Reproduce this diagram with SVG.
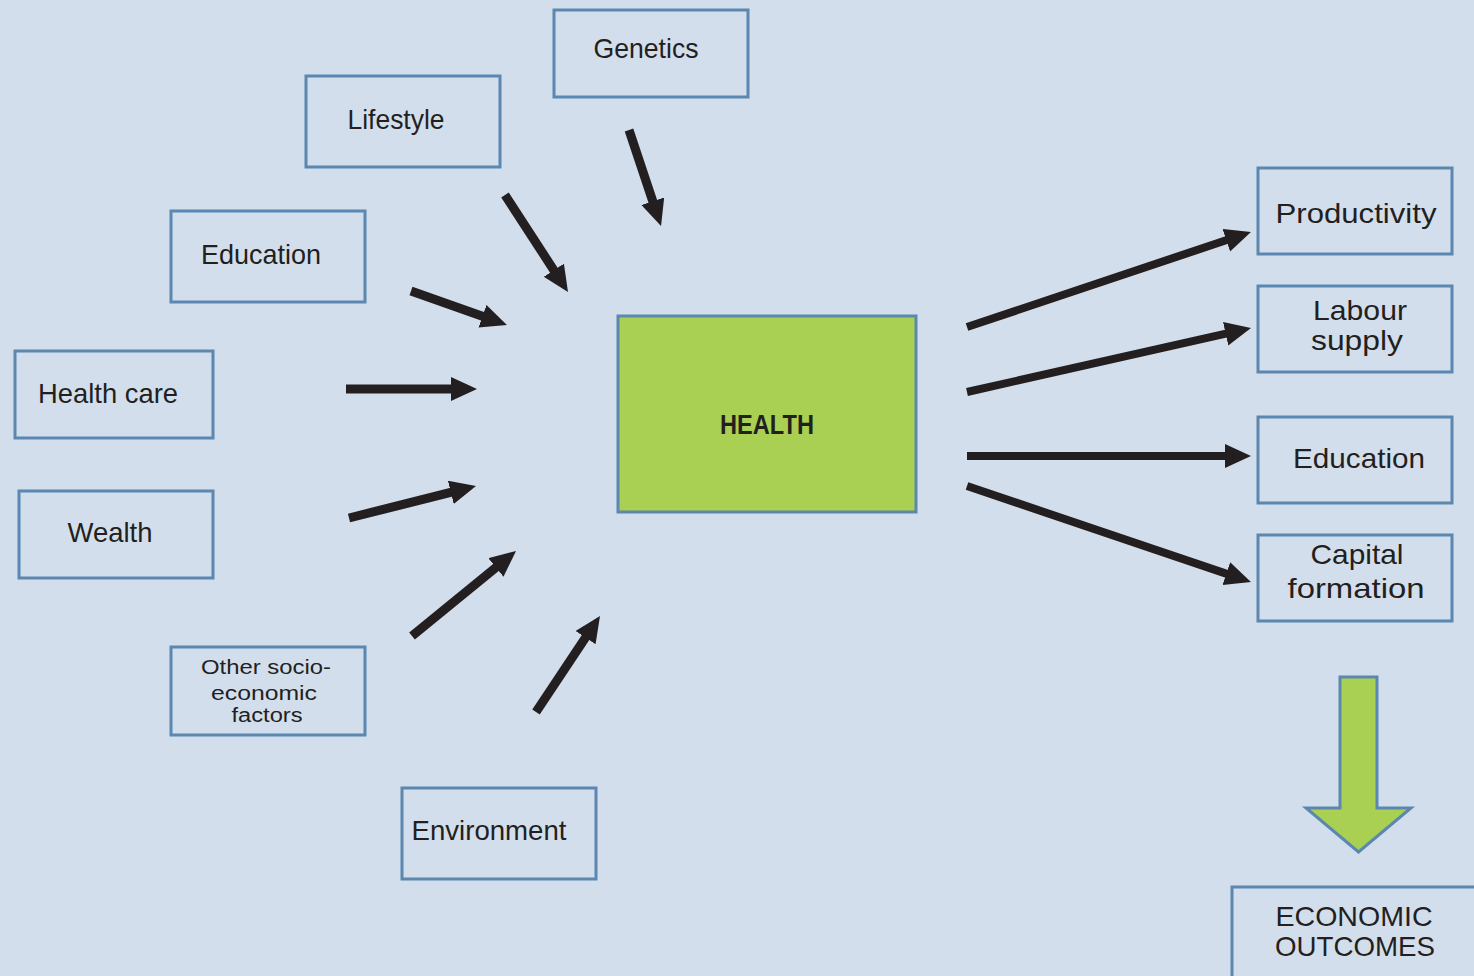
<svg xmlns="http://www.w3.org/2000/svg" width="1474" height="976" viewBox="0 0 1474 976">
<style>
.box{fill:none;stroke:#5B87B0;stroke-width:3}
.t{font-family:"Liberation Sans",Arial,sans-serif;font-size:28px;fill:#231F20;text-anchor:middle}
.s{font-size:20px}
.arr{stroke:#231F20;stroke-width:9;fill:none;marker-end:url(#ah)}
.arr2{stroke:#231F20;stroke-width:8;fill:none;marker-end:url(#ah)}
</style>
<defs>
<marker id="ah" markerUnits="userSpaceOnUse" markerWidth="28" markerHeight="26" refX="6" refY="12" orient="auto" viewBox="0 0 28 26">
<path d="M0,0 L26,12 L0,24 z" fill="#231F20"/>
</marker>
</defs>
<rect width="1474" height="976" fill="#D3DEEC"/>
<g id="connectors">
<line class="arr" x1="629" y1="130" x2="654.7" y2="207"/>
<line class="arr" x1="505" y1="195" x2="557.1" y2="275.2"/>
<line class="arr" x1="411" y1="291" x2="488.1" y2="318.3"/>
<line class="arr" x1="346" y1="389" x2="457" y2="389"/>
<line class="arr" x1="349" y1="518" x2="456.6" y2="490.9"/>
<line class="arr" x1="412" y1="636" x2="500.5" y2="563.7"/>
<line class="arr" x1="536" y1="712" x2="588.9" y2="632.6"/>
<line class="arr2" x1="967" y1="327" x2="1232" y2="238.3"/>
<line class="arr2" x1="967" y1="392" x2="1231.5" y2="332.4"/>
<line class="arr2" x1="967" y1="456" x2="1231" y2="456"/>
<line class="arr2" x1="967" y1="486" x2="1232" y2="575.6"/>
<path id="big-arrow" d="M1340,677 L1377,677 L1377,808 L1411,808 L1358.5,852 L1306,808 L1340,808 Z" fill="#A9D052" stroke="#5B87B0" stroke-width="3"/>
</g>
<g id="genetics"><rect class="box" x="554" y="10" width="194" height="87"/><text class="t" x="646" y="58" textLength="105" lengthAdjust="spacingAndGlyphs">Genetics</text></g>
<g id="lifestyle"><rect class="box" x="306" y="76" width="194" height="91"/><text class="t" x="396" y="129" textLength="97" lengthAdjust="spacingAndGlyphs">Lifestyle</text></g>
<g id="education-in"><rect class="box" x="171" y="211" width="194" height="91"/><text class="t" x="261" y="264" textLength="120" lengthAdjust="spacingAndGlyphs">Education</text></g>
<g id="health-care"><rect class="box" x="15" y="351" width="198" height="87"/><text class="t" x="108" y="403" textLength="140" lengthAdjust="spacingAndGlyphs">Health care</text></g>
<g id="wealth"><rect class="box" x="19" y="491" width="194" height="87"/><text class="t" x="110" y="542" textLength="85" lengthAdjust="spacingAndGlyphs">Wealth</text></g>
<g id="other"><rect class="box" x="171" y="647" width="194" height="88"/>
<text class="t s" x="266" y="674" textLength="130" lengthAdjust="spacingAndGlyphs">Other socio-</text>
<text class="t s" x="264" y="700" textLength="106" lengthAdjust="spacingAndGlyphs">economic</text>
<text class="t s" x="267" y="722" textLength="71" lengthAdjust="spacingAndGlyphs">factors</text></g>
<g id="environment"><rect class="box" x="402" y="788" width="194" height="91"/><text class="t" x="489" y="840" textLength="155" lengthAdjust="spacingAndGlyphs">Environment</text></g>
<g id="health"><rect x="618" y="316" width="298" height="196" fill="#A9D052" stroke="#5B87B0" stroke-width="3"/><text class="t" x="767" y="434" font-size="26" font-weight="bold" textLength="94" lengthAdjust="spacingAndGlyphs">HEALTH</text></g>
<g id="productivity"><rect class="box" x="1258" y="168" width="194" height="86"/><text class="t" x="1356" y="223" textLength="161" lengthAdjust="spacingAndGlyphs">Productivity</text></g>
<g id="labour"><rect class="box" x="1258" y="286" width="194" height="86"/>
<text class="t" x="1360" y="320" textLength="94" lengthAdjust="spacingAndGlyphs">Labour</text>
<text class="t" x="1357" y="350" textLength="92" lengthAdjust="spacingAndGlyphs">supply</text></g>
<g id="education-out"><rect class="box" x="1258" y="417" width="194" height="86"/><text class="t" x="1359" y="468" textLength="132" lengthAdjust="spacingAndGlyphs">Education</text></g>
<g id="capital"><rect class="box" x="1258" y="535" width="194" height="86"/>
<text class="t" x="1357" y="564" textLength="93" lengthAdjust="spacingAndGlyphs">Capital</text>
<text class="t" x="1356" y="598" textLength="137" lengthAdjust="spacingAndGlyphs">formation</text></g>
<g id="economic-outcomes"><rect class="box" x="1232" y="887" width="250" height="100"/>
<text class="t" x="1354" y="926" textLength="157" lengthAdjust="spacingAndGlyphs">ECONOMIC</text>
<text class="t" x="1355" y="956" textLength="160" lengthAdjust="spacingAndGlyphs">OUTCOMES</text></g>
</svg>
